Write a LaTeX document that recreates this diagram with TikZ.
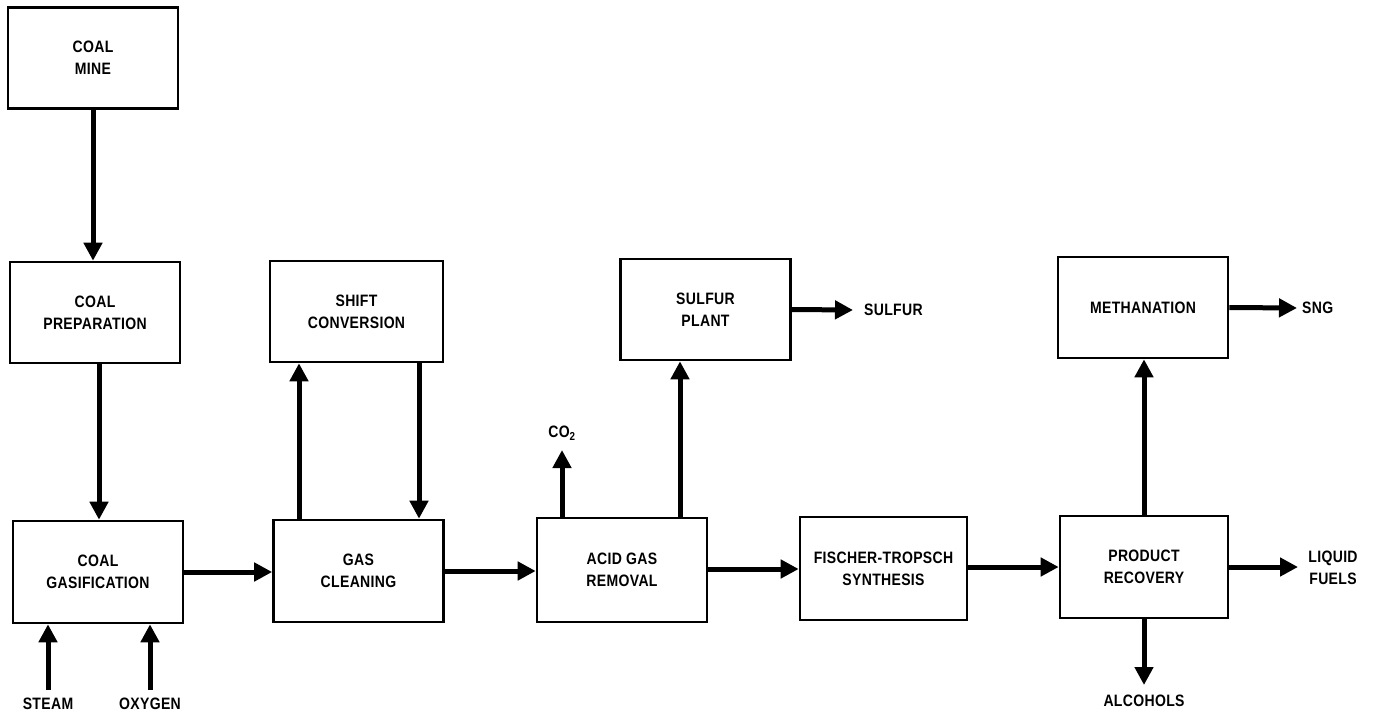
\documentclass[tikz,border=0pt]{standalone}
\usepackage{fontspec}
\setmainfont{Liberation Sans}[LetterSpace=2,FakeStretch=0.85]
\usetikzlibrary{arrows.meta}
\begin{document}
\begin{tikzpicture}[x=1pt,y=-1pt,
  box/.style={draw,line width=2.6pt,minimum width=170pt,minimum height=101pt,inner sep=0pt,
    align=center,font=\fontsize{16.5}{22}\selectfont\bfseries},
  lbl/.style={inner sep=1pt,align=center,font=\fontsize{16.5}{22}\selectfont\bfseries},
  arr/.style={line width=5pt,-{Triangle[width=18pt,length=18pt]}},
  ln/.style={line width=5pt}]
\useasboundingbox (0,0) rectangle (1375,717);
% boxes
\node[box] (mine) at (93,58) {COAL\\MINE};
\node[box] (prep) at (95,312.5) {COAL\\PREPARATION};
\node[box,minimum height=102pt] (gasif) at (98,572) {COAL\\GASIFICATION};
\node[box,minimum width=173pt] (shift) at (356.5,311.5) {SHIFT\\CONVERSION};
\node[box,minimum height=102pt] (clean) at (358.5,571) {GAS\\CLEANING};
\node[box] (sulfur) at (705.5,309.5) {SULFUR\\PLANT};
\node[box,minimum height=104pt] (acid) at (622,570) {ACID GAS\\REMOVAL};
\node[box,minimum width=167pt,minimum height=103pt] (ft) at (883.5,568.5) {FISCHER-TROPSCH\\SYNTHESIS};
\node[box] (meth) at (1143,307.5) {METHANATION};
\node[box,minimum width=168pt,minimum height=102pt] (prod) at (1144,567) {PRODUCT\\RECOVERY};
% labels
\node[lbl] (steam) at (48,704) {STEAM};
\node[lbl] (oxygen) at (150,704) {OXYGEN};
\node[lbl] (co2) at (562,433) {CO\textsubscript{2}};
\node[lbl,anchor=west] (sulfurout) at (863,310) {SULFUR};
\node[lbl,anchor=west] (sng) at (1301,308) {SNG};
\node[lbl] (liquid) at (1333,568) {LIQUID\\FUELS};
\node[lbl] (alcohols) at (1144,701) {ALCOHOLS};
% coordinates for free ends
\coordinate (steamtail) at (48,690);
\coordinate (oxytail) at (150,690);
\coordinate (co2tip) at (562,450);
\coordinate (sulfurtip) at (853,310);
\coordinate (sngtip) at (1297,308);
\coordinate (liqtip) at (1298,567);
\coordinate (alctip) at (1144,685);
% connectors
\draw[arr] (mine.south) -- (mine.south |- prep.north);
\draw[arr] ([xshift=4pt]prep.south) -- ([xshift=4pt]prep.south |- gasif.north);
\draw[arr] (gasif.east) -- (gasif.east -| clean.west);
\draw[arr] ([xshift=-59.5pt]clean.north) -- ([xshift=-59.5pt]clean.north |- shift.south);
\draw[arr] ([xshift=60.5pt]clean.north |- shift.south) -- ([xshift=60.5pt]clean.north);
\draw[arr] (clean.east) -- (clean.east -| acid.west);
\draw[arr] ([xshift=58pt]acid.north) -- ([xshift=58pt]acid.north |- sulfur.south);
\draw[arr] ([xshift=-60pt]acid.north) -- (co2tip);
\draw[arr] ([yshift=1pt]acid.east) -- ([yshift=1pt]acid.east -| ft.west);
\draw[arr] ([yshift=1.5pt]ft.east) -- ([yshift=1.5pt]ft.east -| prod.west);
\draw[arr] (prod.north) -- (prod.north |- meth.south);
\draw[arr] (prod.south) -- (alctip);
\draw[arr] (prod.east) -- (liqtip);
\draw[arr] (meth.east) -- (sngtip);
\draw[arr] (sulfur.east) -- (sulfurtip);
\draw[arr] (steamtail) -- (steamtail |- gasif.south);
\draw[arr] (oxytail) -- (oxytail |- gasif.south);
\end{tikzpicture}
\end{document}
